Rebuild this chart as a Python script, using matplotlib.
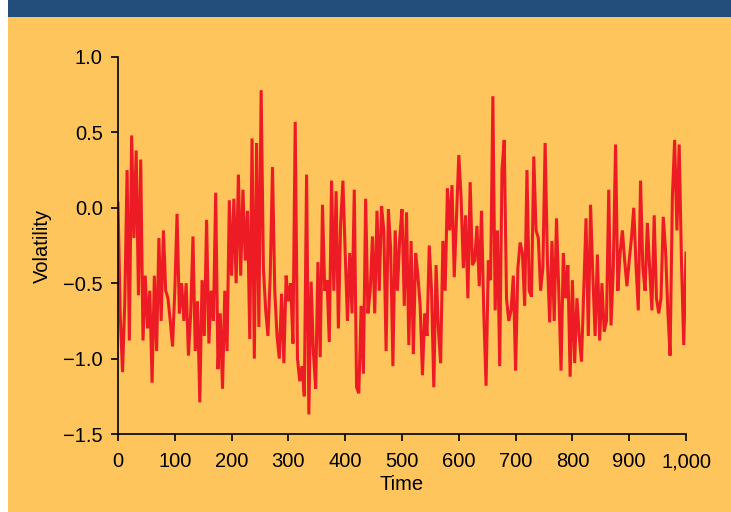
import numpy as np
import matplotlib
matplotlib.use('Agg')
import matplotlib.pyplot as plt
import matplotlib.patches as patches
from matplotlib.ticker import FuncFormatter

# volatility series (one value every 4 time steps)
vol_000_164 = [0.03, -0.72, -1.09, -0.62, 0.25, -0.88, 0.48, -0.20, 0.38, -0.58,
               0.32, -0.88, -0.45, -0.80, -0.55, -1.16, -0.45, -0.95, -0.20, -0.75,
               -0.15, -0.55, -0.60, -0.75, -0.92, -0.55, -0.04, -0.70, -0.50, -0.75,
               -0.50, -0.98, -0.70, -0.19, -0.95, -0.62, -1.29, -0.48, -0.85, -0.08,
               -0.90, -0.55]
vol_168_332 = [-0.75, 0.10, -1.07, -0.70, -1.20, -0.55, -0.95, 0.05, -0.45, 0.06,
               -0.50, 0.22, -0.45, 0.12, -0.35, -0.02, -0.87, 0.46, -1.00, 0.43,
               -0.79, 0.78, -0.40, -0.68, -0.85, -0.45, 0.27, -0.55, -0.85, -1.00,
               -0.57, -1.03, -0.45, -0.62, -0.50, -0.90, 0.57, -1.00, -1.15, -1.05,
               -1.25, 0.22]
vol_336_504 = [-1.37, -0.49, -0.96, -1.20, -0.36, -0.99, 0.02, -0.55, -0.48, -0.89,
               0.18, -0.55, 0.11, -0.80, -0.10, 0.18, -0.30, -0.75, -0.30, -0.70,
               0.12, -1.19, -1.23, -0.65, -1.10, 0.06, -0.70, -0.55, -0.19, -0.70,
               -0.02, -0.55, 0.01, -0.15, -0.95, -0.01, -0.27, -1.05, -0.15, -0.55,
               -0.20, -0.01, -0.65]
vol_508_672 = [-0.03, -0.91, -0.22, -0.97, -0.30, -0.45, -0.65, -1.11, -0.70, -0.85,
               -0.25, -0.55, -1.19, -0.38, -0.80, -1.03, -0.22, -0.55, 0.13, -0.15,
               0.15, -0.46, -0.05, 0.35, 0.07, -0.40, -0.05, -0.60, 0.17, -0.38,
               -0.35, -0.12, -0.52, -0.02, -0.70, -1.18, -0.35, -0.48, 0.74, -0.68,
               -0.15, -1.05]
vol_676_840 = [0.25, 0.45, -0.60, -0.75, -0.68, -0.45, -1.08, -0.40, -0.23, -0.30,
               -0.65, 0.25, -0.55, -0.59, 0.34, -0.15, -0.20, -0.55, -0.40, 0.43,
               -0.35, -0.76, -0.22, -0.75, -0.07, -0.55, -1.08, -0.30, -0.60, -0.38,
               -1.12, -0.48, -1.03, -0.60, -0.85, -1.02, -0.55, -0.07, -0.85, 0.02,
               -0.45, -0.85]
vol_844_1000 = [-0.31, -0.88, -0.50, -0.82, -0.75, 0.12, -0.78, -0.40, 0.42, -0.55,
                -0.30, -0.15, -0.35, -0.52, -0.35, -0.20, 0.00, -0.38, -0.68, 0.18,
                -0.40, -0.55, -0.10, -0.40, -0.68, -0.05, -0.60, -0.70, -0.60, -0.06,
                -0.28, -0.68, -0.98, 0.07, 0.45, -0.15, 0.42, -0.35, -0.91, -0.30]

volatility = vol_000_164 + vol_168_332 + vol_336_504 + vol_508_672 + vol_676_840 + vol_844_1000
time = np.arange(0, 1001, 4)

x_ticks = [0, 100, 200, 300, 400, 500, 600, 700, 800, 900, 1000]
y_ticks = [-1.5, -1.0, -0.5, 0.0, 0.5, 1.0]

plt.rcParams['font.family'] = ['Liberation Sans', 'DejaVu Sans']

fig = plt.figure(figsize=(7.31, 5.12), dpi=100)
fig.patch.set_facecolor('white')

# orange panel and dark blue band on top
fig.patches.append(patches.Rectangle((8 / 731, 0), 1, 1, transform=fig.transFigure,
                                     facecolor='#fec55d', edgecolor='none', zorder=-10))
fig.patches.append(patches.Rectangle((8 / 731, 1 - 17 / 512), 1, 17 / 512, transform=fig.transFigure,
                                     facecolor='#234d7a', edgecolor='none', zorder=-9))

ax = fig.add_axes([118 / 731, 78 / 512, 568 / 731, 377 / 512])
ax.set_facecolor('none')
ax.plot(time, volatility, color='#ed1c24', linewidth=2.2, solid_joinstyle='miter')

ax.set_xlim(0, 1000)
ax.set_ylim(-1.5, 1.0)
ax.set_xticks(x_ticks)
ax.set_yticks(y_ticks)
ax.xaxis.set_major_formatter(FuncFormatter(lambda v, p: f'{int(v):,}'))
ax.yaxis.set_major_formatter(FuncFormatter(lambda v, p: f'{v:.1f}'.replace('-', '\u2212')))
for s in ['top', 'right']:
    ax.spines[s].set_visible(False)
for s in ['left', 'bottom']:
    ax.spines[s].set_linewidth(1.2)
ax.tick_params(direction='out', length=5, width=1.2, labelsize=14.5)
ax.tick_params(axis='x', pad=8)
ax.tick_params(axis='y', pad=6)

ax.set_xlabel('Time', fontsize=14.5, labelpad=3)
ax.set_ylabel('Volatility', fontsize=14.5, labelpad=8)

fig.savefig('out.png', dpi=100)
